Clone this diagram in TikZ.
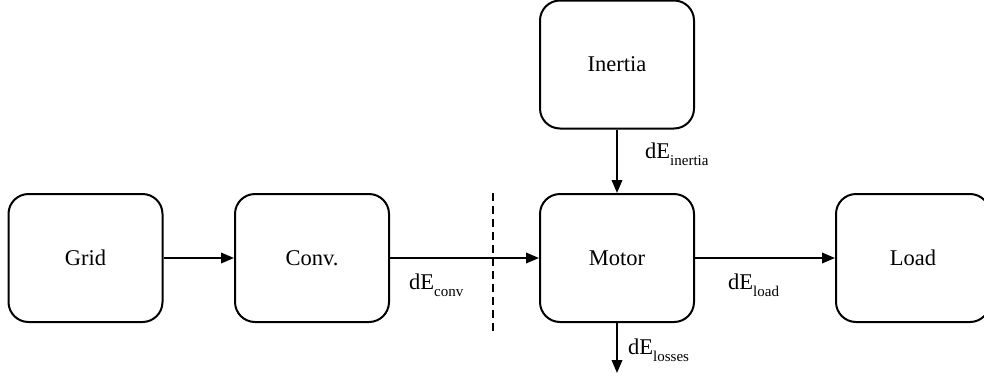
\documentclass[tikz,border=0pt]{standalone}
\usepackage{fontspec}
\setmainfont{Liberation Serif}
\usetikzlibrary{arrows.meta}
% subscript set lower and smaller than the main label text
\newcommand{\lowsub}[1]{\raisebox{-7pt}{\fontsize{15}{15}\selectfont #1}}
\begin{document}
\begin{tikzpicture}[x=1pt,y=-1pt,
  block/.style={draw, line width=2pt, rounded corners=20pt,
    minimum width=154pt, minimum height=128pt, inner sep=0pt,
    font=\fontsize{22.5}{27}\selectfont},
  flow/.style={line width=2pt, -{Triangle[length=13pt,width=10.5pt]}},
  flowlabel/.style={anchor=base west, inner sep=0pt,
    font=\fontsize{22.5}{27}\selectfont}]
  \useasboundingbox (0,0) rectangle (984,375);

  % blocks
  \node[block] (grid)    at (85.5,258) {Grid};
  \node[block] (conv)    at (312,258)  {Conv.};
  \node[block] (motor)   at (617,258)  {Motor};
  \node[block] (load)    at (913,258)  {Load};
  \node[block] (inertia) at (617,64.5) {Inertia};

  % loss outlet and the converter boundary
  \coordinate (lossend) at (617,373);
  \coordinate (cuttop) at (493,193);
  \coordinate (cutbot) at (493,333);

  % energy flows
  \draw[flow] (grid) -- (conv);
  \draw[flow] (conv) -- (motor);
  \draw[flow] (motor) -- (load);
  \draw[flow] (inertia) -- (motor);
  \draw[flow] (motor) -- (lossend);
  \draw[line width=2pt, dash pattern=on 8pt off 5pt] (cuttop) -- (cutbot);

  % flow labels
  \node[flowlabel] (lconv)    at (409,289) {dE\lowsub{conv}};
  \node[flowlabel] (lload)    at (728,289) {dE\lowsub{load}};
  \node[flowlabel] (linertia) at (645,158) {dE\lowsub{inertia}};
  \node[flowlabel] (llosses)  at (628,354) {dE\lowsub{losses}};
\end{tikzpicture}
\end{document}
